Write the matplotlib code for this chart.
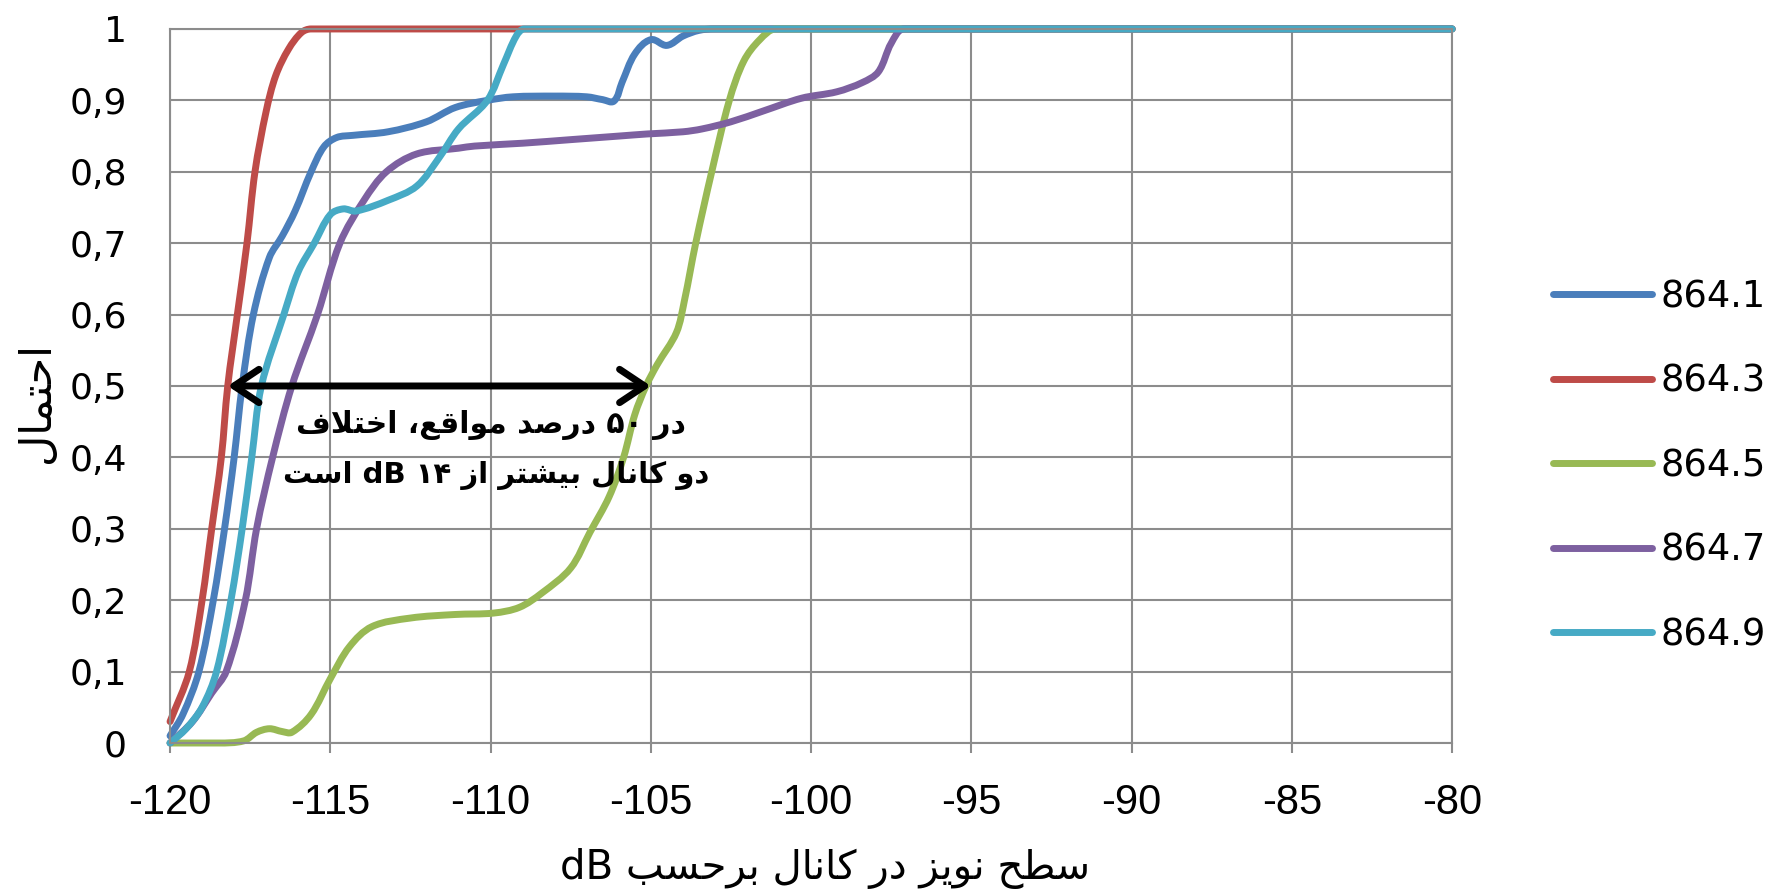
import numpy as np
import matplotlib
matplotlib.use("Agg")
import matplotlib.pyplot as plt
from matplotlib.path import Path
from matplotlib.patches import PathPatch
from matplotlib.lines import Line2D

# ---- data ----
x_ticks = [-120, -115, -110, -105, -100, -95, -90, -85, -80]
y_ticks = [0, 0.1, 0.2, 0.3, 0.4, 0.5, 0.6, 0.7, 0.8, 0.9, 1.0]
y_tick_labels = ['0', '0,1', '0,2', '0,3', '0,4', '0,5', '0,6', '0,7', '0,8', '0,9', '1']

labels = ['864.1', '864.3', '864.5', '864.7', '864.9']
colors = ['#4a7ebb', '#be4b48', '#98b954', '#7d60a0', '#46aac5']

x_8641 = [-120, -119.6, -119.1, -118.65, -118.3, -118.0, -117.75, -117.4, -116.9, -116.5, -116.1,
          -115.6, -115.2, -114.8, -114.3, -113.2, -112.0, -111.1, -110.1, -109.3, -108.0, -107.0,
          -106.5, -106.15, -105.9, -105.5, -105.0, -104.5, -104.0, -103.5, -103.0, -80]
y_8641 = [0.01, 0.04, 0.10, 0.20, 0.30, 0.40, 0.50, 0.60, 0.68, 0.71, 0.745,
          0.80, 0.835, 0.848, 0.851, 0.856, 0.87, 0.89, 0.90, 0.905, 0.906, 0.905,
          0.901, 0.899, 0.925, 0.965, 0.985, 0.977, 0.99, 0.998, 1.0, 1.0]

x_8643 = [-120, -119.4, -119.0, -118.7, -118.4, -118.2, -117.9, -117.6, -117.35, -117.0, -116.7,
          -116.3, -115.9, -115.6, -80]
y_8643 = [0.03, 0.10, 0.20, 0.30, 0.40, 0.50, 0.60, 0.70, 0.80, 0.885, 0.935,
          0.972, 0.995, 1.0, 1.0]

x_8645 = [-120, -118.5, -117.7, -117.3, -116.9, -116.5, -116.2, -115.6, -115.0, -114.4, -113.7,
          -112.5, -111.1, -109.9, -109.1, -108.4, -107.5, -106.9, -106.3, -105.85, -105.5, -105.15,
          -104.8, -104.2, -103.95, -103.6, -103.1, -102.55, -102.1, -101.6, -101.1, -80]
y_8645 = [0.0, 0.0, 0.003, 0.015, 0.02, 0.016, 0.015, 0.04, 0.09, 0.135, 0.163,
          0.175, 0.18, 0.182, 0.19, 0.21, 0.245, 0.295, 0.345, 0.40, 0.46, 0.50,
          0.53, 0.575, 0.62, 0.70, 0.80, 0.90, 0.955, 0.985, 1.0, 1.0]

x_8647 = [-120, -119.3, -118.7, -118.25, -117.65, -117.3, -116.8, -116.2, -115.4, -114.7, -113.95,
          -113.25, -112.3, -111.0, -110.5, -109.0, -107.5, -106.0, -105.1, -104.0, -103.4, -102.5,
          -101.5, -100.3, -99.2, -98.4, -97.9, -97.5, -97.1, -80]
y_8647 = [0.0, 0.03, 0.07, 0.10, 0.20, 0.30, 0.40, 0.50, 0.60, 0.70, 0.76,
          0.80, 0.825, 0.833, 0.836, 0.84, 0.845, 0.85, 0.853, 0.856, 0.86, 0.87,
          0.885, 0.903, 0.912, 0.925, 0.94, 0.98, 1.0, 1.0]

x_8649 = [-120, -119.5, -119.0, -118.55, -118.1, -117.75, -117.45, -117.15, -116.45, -116.0, -115.5,
          -115.0, -114.6, -114.2, -113.2, -112.3, -111.6, -111.0, -110.1, -109.6, -109.2, -108.95, -80]
y_8649 = [0.0, 0.02, 0.05, 0.10, 0.20, 0.30, 0.40, 0.50, 0.60, 0.66, 0.70,
          0.74, 0.748, 0.745, 0.76, 0.78, 0.82, 0.86, 0.90, 0.95, 0.99, 1.0, 1.0]

series_x = [x_8641, x_8643, x_8645, x_8647, x_8649]
series_y = [y_8641, y_8643, y_8645, y_8647, y_8649]

arrow_from = -118.2
arrow_to = -105.0
arrow_level = 0.5

x_title = 'سطح نویز در کانال برحسب dB'
y_title = 'احتمال'
note_1 = 'در ۵۰ درصد مواقع، اختلاف'
note_2 = 'دو کانال بیشتر از ۱۴ dB است'

# ---- minimal arabic shaping (matplotlib has no complex text layout) ----
FORMS = {
    'ا': ('\uFE8D', '\uFE8E'),
    'ب': ('\uFE8F', '\uFE90', '\uFE91', '\uFE92'),
    'ت': ('\uFE95', '\uFE96', '\uFE97', '\uFE98'),
    'ح': ('\uFEA1', '\uFEA2', '\uFEA3', '\uFEA4'),
    'خ': ('\uFEA5', '\uFEA6', '\uFEA7', '\uFEA8'),
    'د': ('\uFEA9', '\uFEAA'),
    'ر': ('\uFEAD', '\uFEAE'),
    'ز': ('\uFEAF', '\uFEB0'),
    'س': ('\uFEB1', '\uFEB2', '\uFEB3', '\uFEB4'),
    'ش': ('\uFEB5', '\uFEB6', '\uFEB7', '\uFEB8'),
    'ص': ('\uFEB9', '\uFEBA', '\uFEBB', '\uFEBC'),
    'ط': ('\uFEC1', '\uFEC2', '\uFEC3', '\uFEC4'),
    'ع': ('\uFEC9', '\uFECA', '\uFECB', '\uFECC'),
    'ف': ('\uFED1', '\uFED2', '\uFED3', '\uFED4'),
    'ق': ('\uFED5', '\uFED6', '\uFED7', '\uFED8'),
    '\u06A9': ('\uFB8E', '\uFB8F', '\uFB90', '\uFB91'),
    'ل': ('\uFEDD', '\uFEDE', '\uFEDF', '\uFEE0'),
    'م': ('\uFEE1', '\uFEE2', '\uFEE3', '\uFEE4'),
    'ن': ('\uFEE5', '\uFEE6', '\uFEE7', '\uFEE8'),
    'و': ('\uFEED', '\uFEEE'),
    '\u06CC': ('\uFBFC', '\uFBFD', '\uFBFE', '\uFBFF'),
}
LAM_ALEF = ('\uFEFB', '\uFEFC')


def shape_word(word):
    units = []
    i = 0
    while i < len(word):
        if word[i] == 'ل' and i + 1 < len(word) and word[i + 1] == 'ا':
            units.append(('la', LAM_ALEF))
            i += 2
        else:
            units.append((word[i], FORMS.get(word[i])))
            i += 1
    out = []
    for j, (ch, f) in enumerate(units):
        if f is None:
            out.append(ch)
            continue
        prev_ok = j > 0 and units[j - 1][1] is not None and len(units[j - 1][1]) == 4
        next_ok = len(f) == 4 and j + 1 < len(units) and units[j + 1][1] is not None
        if prev_ok and next_ok:
            out.append(f[3])
        elif prev_ok:
            out.append(f[1])
        elif next_ok:
            out.append(f[2])
        else:
            out.append(f[0])
    return ''.join(out[::-1])


def rtl(text):
    words = []
    for w in text.split(' ')[::-1]:
        w2 = w.replace('\u0643', '\u06A9').replace('\u064A', '\u06CC')
        if any(c in FORMS for c in w2):
            words.append(shape_word(w2))
        else:
            words.append(w)
    return ' '.join(words)


def smooth_path(xs, ys, sx, sy):
    # excel-like smoothed line through the points (bezier segments)
    p = np.column_stack([(np.asarray(xs, float) - xs[0]) * sx, np.asarray(ys, float) * sy])
    n = len(p)
    t = np.zeros_like(p)
    for i in range(n):
        if (i < n - 1 and ys[i + 1] == ys[i]) or (i > 0 and ys[i - 1] == ys[i]):
            t[i] = (1.0, 0.0)  # flat runs stay flat
            continue
        d = p[min(i + 1, n - 1)] - p[max(i - 1, 0)]
        t[i] = d / np.hypot(*d)
    verts = [p[0]]
    codes = [Path.MOVETO]
    for i in range(n - 1):
        L = np.hypot(*(p[i + 1] - p[i]))
        verts += [p[i] + t[i] * L / 3, p[i + 1] - t[i + 1] * L / 3, p[i + 1]]
        codes += [Path.CURVE4] * 3
    verts = np.array(verts)
    verts[:, 0] = verts[:, 0] / sx + xs[0]
    verts[:, 1] = verts[:, 1] / sy
    return Path(verts, codes)


fig = plt.figure(figsize=(17.75, 8.94), dpi=100)
ax = fig.add_axes([0.0958, 0.1689, 0.7223, 0.7987])

sx = 1282 / 40.0
sy = 714.0
for xs, ys, col in zip(series_x, series_y, colors):
    ax.add_patch(PathPatch(smooth_path(xs, ys, sx, sy), facecolor='none', edgecolor=col,
                           lw=5, clip_on=False, capstyle='round', joinstyle='round'))

ax.set_xlim(-120, -80)
ax.set_ylim(0, 1)
ax.set_xticks(x_ticks)
ax.set_xticklabels([str(v) for v in x_ticks], family=['Liberation Sans', 'DejaVu Sans'],
                   fontsize=30)
ax.set_yticks(y_ticks)
ax.set_yticklabels(y_tick_labels, family='DejaVu Sans', fontsize=26)
ax.tick_params(axis='x', length=7, color='#8c8c8c', width=1.5, pad=22)
ax.tick_params(axis='y', length=0, pad=31)
ax.grid(True, color='#8c8c8c', lw=1.5)
ax.set_axisbelow(True)
for s in ax.spines.values():
    s.set_color('#8c8c8c')
    s.set_linewidth(1.5)

ax.annotate('', xy=(arrow_from, arrow_level), xytext=(arrow_to, arrow_level),
            arrowprops=dict(arrowstyle='<->,head_length=0.45,head_width=0.3', lw=5,
                            color='black', mutation_scale=40, shrinkA=0, shrinkB=0))
ax.text(-109.98, 0.445, rtl(note_1), ha='center', va='center', fontsize=21.5,
        fontweight='bold', family='DejaVu Sans')
ax.text(-109.83, 0.375, rtl(note_2), ha='center', va='center', fontsize=21,
        fontweight='bold', family='DejaVu Sans')

fig.text(0.465, 0.029, rtl(x_title), ha='center', va='center', fontsize=29, family='DejaVu Sans')
fig.text(0.021, 0.55, rtl(y_title), ha='center', va='center', rotation=90, fontsize=31,
         family='DejaVu Sans')

handles = [Line2D([], [], color=c, lw=5, solid_capstyle='round') for c in colors]
fig.legend(handles, labels, loc='center left', bbox_to_anchor=(0.875, 0.479), frameon=False,
           fontsize=26.5, handlelength=2.69, handletextpad=0.22, labelspacing=1.29,
           borderpad=0, borderaxespad=0)

fig.savefig('out.png', dpi=100, facecolor='white')
